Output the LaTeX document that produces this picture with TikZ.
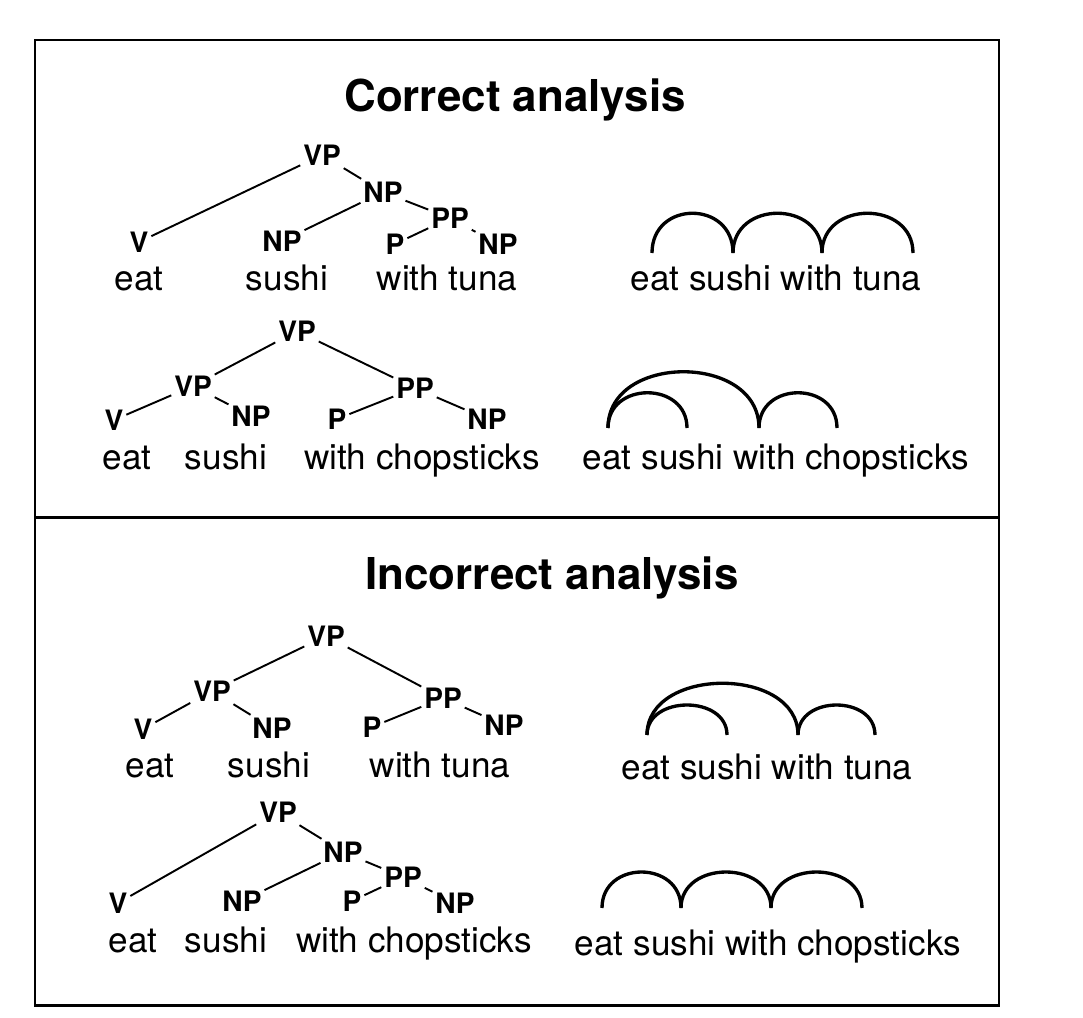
\documentclass[tikz,border=0pt]{standalone}
\usepackage{fontspec}
\setmainfont{TeX Gyre Heros}
\begin{document}
\begin{tikzpicture}[x=0.02cm, y=-0.02cm,
  cat/.style={font=\fontsize{16}{19}\selectfont\bfseries, inner sep=1.5pt},
  word/.style={font=\fontsize{20}{24}\selectfont, anchor=base, inner sep=0pt},
  heading/.style={font=\fontsize{25}{30}\selectfont\bfseries},
  branch/.style={line width=1.1pt},
  dep/.style={line width=1.9pt},
  panel/.style={line width=1.7pt}]
  \useasboundingbox (0,0) rectangle (1083,1018);

  % two panels
  \draw[panel] (35,40) rectangle (999,1005);
  \draw[panel] (35,517) -- (999,517);
  \node[heading] (hcorrect) at (515,100) {Correct analysis};
  \node[heading] (hincorrect) at (552,578) {Incorrect analysis};

  % correct: eat sushi with tuna
  \node[cat] (aVP) at (322,155) {VP};
  \node[cat] (aNP) at (383,192) {NP};
  \node[cat] (aPP) at (450,218) {PP};
  \node[cat] (aV) at (139,242) {V};
  \node[cat] (aNPs) at (282,241) {NP};
  \node[cat] (aP) at (395,244) {P};
  \node[cat] (aNPt) at (498,244) {NP};
  \draw[branch] (aVP) -- (aV);
  \draw[branch] (aVP) -- (aNP);
  \draw[branch] (aNP) -- (aNPs);
  \draw[branch] (aNP) -- (aPP);
  \draw[branch] (aPP) -- (aP);
  \draw[branch] (aPP) -- (aNPt);
  \node[word] (aeat) at (139,290) {eat};
  \node[word] (asushi) at (287,290) {sushi};
  \node[word] (awith) at (447,290) {with tuna};

  % correct: eat sushi with chopsticks
  \node[cat] (bVP) at (297,331) {VP};
  \node[cat] (bVPl) at (193,386) {VP};
  \node[cat] (bPP) at (415,388) {PP};
  \node[cat] (bV) at (114,420) {V};
  \node[cat] (bNP) at (251,416) {NP};
  \node[cat] (bP) at (337,419) {P};
  \node[cat] (bNPc) at (487,419) {NP};
  \draw[branch] (bVP) -- (bVPl);
  \draw[branch] (bVP) -- (bPP);
  \draw[branch] (bVPl) -- (bV);
  \draw[branch] (bVPl) -- (bNP);
  \draw[branch] (bPP) -- (bP);
  \draw[branch] (bPP) -- (bNPc);
  \node[word] (beat) at (127,469) {eat};
  \node[word] (bsushi) at (226,469) {sushi};
  \node[word] (bwith) at (422,469) {with chopsticks};

  % incorrect: eat sushi with tuna
  \node[cat] (cVP) at (326,636) {VP};
  \node[cat] (cVPl) at (212,691) {VP};
  \node[cat] (cPP) at (443,698) {PP};
  \node[cat] (cV) at (143,729) {V};
  \node[cat] (cNP) at (272,728) {NP};
  \node[cat] (cP) at (372,727) {P};
  \node[cat] (cNPt) at (504,725) {NP};
  \draw[branch] (cVP) -- (cVPl);
  \draw[branch] (cVP) -- (cPP);
  \draw[branch] (cVPl) -- (cV);
  \draw[branch] (cVPl) -- (cNP);
  \draw[branch] (cPP) -- (cP);
  \draw[branch] (cPP) -- (cNPt);
  \node[word] (ceat) at (150,777) {eat};
  \node[word] (csushi) at (269,777) {sushi};
  \node[word] (cwith) at (440,777) {with tuna};

  % incorrect: eat sushi with chopsticks
  \node[cat] (dVP) at (278,812) {VP};
  \node[cat] (dNP) at (343,852) {NP};
  \node[cat] (dPP) at (403,877) {PP};
  \node[cat] (dV) at (118,903) {V};
  \node[cat] (dNPs) at (242,901) {NP};
  \node[cat] (dP) at (352,901) {P};
  \node[cat] (dNPc) at (455,903) {NP};
  \draw[branch] (dVP) -- (dV);
  \draw[branch] (dVP) -- (dNP);
  \draw[branch] (dNP) -- (dNPs);
  \draw[branch] (dNP) -- (dPP);
  \draw[branch] (dPP) -- (dP);
  \draw[branch] (dPP) -- (dNPc);
  \node[word] (deat) at (133,952) {eat};
  \node[word] (dsushi) at (226,952) {sushi};
  \node[word] (dwith) at (414,952) {with chopsticks};

  % dependency arcs
  \node[word] (rtuna) at (776,290) {eat sushi with tuna};
  \coordinate (r1) at (652,253); \coordinate (r2) at (733,253);
  \coordinate (r3) at (822,253); \coordinate (r4) at (913,253);
  \draw[dep] (r1) .. controls +(0,-53) and +(0,-53) .. (r2);
  \draw[dep] (r2) .. controls +(0,-53) and +(0,-53) .. (r3);
  \draw[dep] (r3) .. controls +(0,-53) and +(0,-53) .. (r4);

  \node[word] (rchop) at (776,469) {eat sushi with chopsticks};
  \coordinate (s1) at (608,428); \coordinate (s2) at (687,428);
  \coordinate (s3) at (759,428); \coordinate (s4) at (837,428);
  \draw[dep] (s1) .. controls +(0,-47) and +(0,-47) .. (s2);
  \draw[dep] (s1) .. controls +(0,-75) and +(0,-75) .. (s3);
  \draw[dep] (s3) .. controls +(0,-47) and +(0,-47) .. (s4);

  \node[word] (xtuna) at (767,779) {eat sushi with tuna};
  \coordinate (t1) at (647,735); \coordinate (t2) at (727,735);
  \coordinate (t3) at (798,735); \coordinate (t4) at (875,735);
  \draw[dep] (t1) .. controls +(0,-40) and +(0,-40) .. (t2);
  \draw[dep] (t1) .. controls +(0,-69) and +(0,-69) .. (t3);
  \draw[dep] (t3) .. controls +(0,-40) and +(0,-40) .. (t4);

  \node[word] (xchop) at (768,955) {eat sushi with chopsticks};
  \coordinate (u1) at (602,908); \coordinate (u2) at (681,908);
  \coordinate (u3) at (771,908); \coordinate (u4) at (862,908);
  \draw[dep] (u1) .. controls +(0,-48) and +(0,-48) .. (u2);
  \draw[dep] (u2) .. controls +(0,-48) and +(0,-48) .. (u3);
  \draw[dep] (u3) .. controls +(0,-48) and +(0,-48) .. (u4);
\end{tikzpicture}
\end{document}
